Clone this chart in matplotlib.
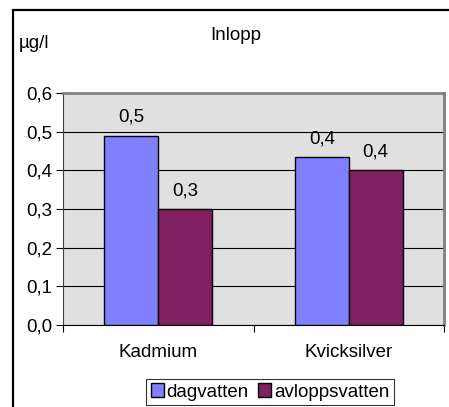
import matplotlib.pyplot as plt
import numpy as np
from matplotlib.patches import Rectangle

plt.rcParams['font.family'] = ['Liberation Sans', 'DejaVu Sans']
plt.rcParams['font.size'] = 13.5

# Measured concentrations (µg/l) at the inlet
categories = ["Kadmium", "Kvicksilver"]
dagvatten = [0.49, 0.435]
avloppsvatten = [0.30, 0.40]
yticks = [0.0, 0.1, 0.2, 0.3, 0.4, 0.5, 0.6]

fig = plt.figure(figsize=(4.49, 4.07), dpi=100)
ax = fig.add_axes([63 / 449, 1 - 325 / 407, 381 / 449, 232 / 407])

# outer chart frame (runs off the right and bottom edges)
fig.patches.append(Rectangle((13 / 449, -0.05), 1.2, 1 - 10 / 407 + 0.05,
                             transform=fig.transFigure, fill=False,
                             edgecolor="black", linewidth=1.6))

x = np.arange(len(categories))
w = 0.283
b1 = ax.bar(x - w / 2, dagvatten, w, color="#8080FF", edgecolor="black",
            linewidth=1.0, label="dagvatten", zorder=3)
b2 = ax.bar(x + w / 2, avloppsvatten, w, color="#802060", edgecolor="black",
            linewidth=1.0, label="avloppsvatten", zorder=3)

for bars, vals in [(b1, dagvatten), (b2, avloppsvatten)]:
    for bar, v in zip(bars, vals):
        ax.text(bar.get_x() + bar.get_width() / 2, v + 0.025,
                f"{v:.1f}".replace(".", ","), ha="center", va="bottom")

ax.set_facecolor("#E0E0E0")
ax.set_xlim(-0.5, 1.5)
ax.set_ylim(0, 0.6)
ax.set_yticks(yticks)
ax.set_yticklabels([f"{t:.1f}".replace(".", ",") for t in yticks])
ax.yaxis.grid(True, color="black", linewidth=0.8, zorder=1)
ax.set_axisbelow(True)

ax.set_xticks([-0.5, 0.5, 1.5])
ax.set_xticklabels([])
ax.set_xticks(x, minor=True)
ax.set_xticklabels(categories, minor=True)
ax.tick_params(axis="x", which="minor", length=0, pad=14)
ax.tick_params(axis="x", which="major", length=5, direction="out", width=0.8)
ax.tick_params(axis="y", length=5, direction="out", width=0.8, pad=3)

ax.spines["top"].set_color("#808080")
ax.spines["top"].set_linewidth(2)
ax.spines["right"].set_color("#808080")
ax.spines["right"].set_linewidth(2)
ax.spines["left"].set_color("#404040")
ax.spines["bottom"].set_color("black")

fig.text(236 / 449, 1 - 35 / 407, "Inlopp", ha="center", va="center")
fig.text(19 / 449, 1 - 43 / 407, "µg/l", ha="left", va="center")

leg = fig.legend(loc="center", bbox_to_anchor=(270 / 449, 1 - 392 / 407),
                 ncol=2, frameon=True, fancybox=False, handlelength=0.7,
                 handleheight=0.7, handletextpad=0.15, columnspacing=0.5,
                 borderpad=0.25, borderaxespad=0)
leg.get_frame().set_edgecolor("black")
leg.get_frame().set_linewidth(0.8)

fig.savefig("out.png", dpi=100)
